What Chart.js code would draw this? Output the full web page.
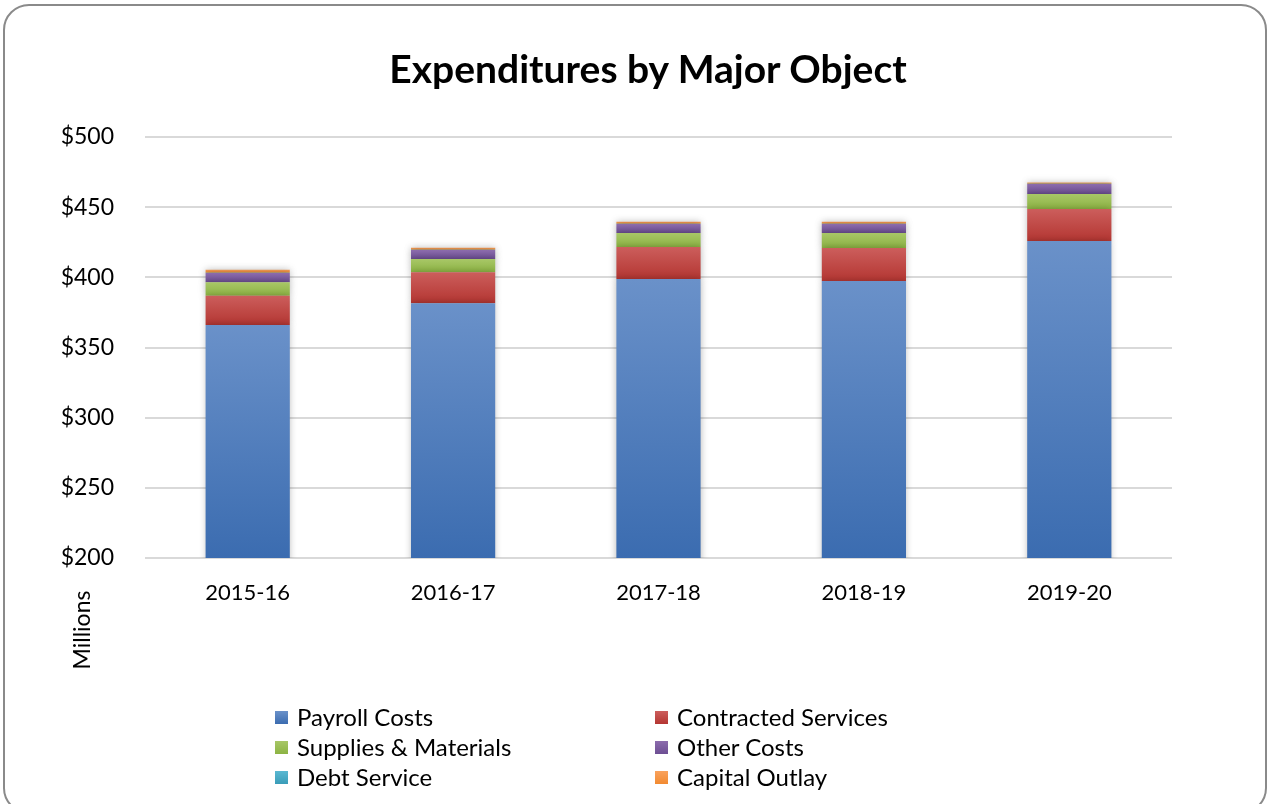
<!DOCTYPE html>
<html>
<head>
<meta charset="utf-8">
<script src="https://cdn.jsdelivr.net/npm/chart.js@4/dist/chart.umd.min.js"></script>
<style>
    body { margin: 0; background: #fff; font-family: Lato, "Open Sans", sans-serif; }
    #frame {
        position: absolute; left: 3px; top: 4px; width: 1260px; height: 806px;
        border: 2px solid #8a8a8a; border-radius: 26px;
    }
    #wrap { position: absolute; left: 0; top: 0; width: 1269px; height: 804px; }
    #title {
        position: absolute; left: 348px; width: 600px; top: 44px; text-align: center;
        font-size: 39px; font-weight: bold; color: #000; line-height: 48px;
    }
    #legend { position: absolute; left: 275px; top: 702px; width: 620px; }
    .legend-item { position: absolute; display: flex; align-items: center; font-size: 24px; line-height: 30px; color: #000; white-space: nowrap; }
    .legend-box { width: 13px; height: 13px; margin-right: 9px; }
</style>
</head>
<body>
<div id="frame"></div>
<div id="wrap"><canvas id="chart"></canvas></div>
<div id="title">Expenditures by Major Object</div>
<div id="legend"></div>
<script>
const years = ['2015-16', '2016-17', '2017-18', '2018-19', '2019-20'];
const payroll = [366, 381.6, 398.8, 397.4, 425.9];
const contracted = [20.9, 22.1, 22.8, 23.5, 22.8];
const supplies = [9.6, 9.3, 10.0, 10.7, 10.7];
const otherCosts = [6.6, 6.4, 6.4, 6.4, 7.1];
const debtService = [0.2, 0.2, 0.2, 0.2, 0.2];
const capitalOutlay = [2.1, 1.4, 1.4, 1.4, 0.9];
const yTicks = [200, 250, 300, 350, 400, 450, 500];

const series = [payroll, contracted, supplies, otherCosts, debtService, capitalOutlay];
const names = ['Payroll Costs', 'Contracted Services', 'Supplies & Materials', 'Other Costs', 'Debt Service', 'Capital Outlay'];
const colors = [
    ['#6a91c9', '#3b6cb0'],
    ['#cc5e5c', '#b43632'],
    ['#a8c767', '#8cb343'],
    ['#8c6cad', '#6d4e93'],
    ['#5ab8d2', '#3a9cb8'],
    ['#f9a25e', '#f28a30']
];

function segGradient(ctx) {
    const d = ctx.datasetIndex;
    const chart = ctx.chart;
    if (ctx.type !== 'data' || !chart.scales.y) return colors[d][1];
    const i = ctx.dataIndex;
    let base = 0;
    for (let k = 0; k < d; k++) base += series[k][i];
    const y = chart.scales.y;
    const top = y.getPixelForValue(base + series[d][i]);
    const bot = y.getPixelForValue(Math.max(base, y.min));
    if (!isFinite(top) || !isFinite(bot) || bot - top < 1) return colors[d][1];
    const g = chart.ctx.createLinearGradient(0, top, 0, bot);
    g.addColorStop(0, colors[d][0]);
    g.addColorStop(1, colors[d][1]);
    return g;
}

const datasets = series.map((s, d) => ({
    label: names[d],
    data: s,
    backgroundColor: segGradient,
    borderWidth: 0,
    barPercentage: 1,
    categoryPercentage: 0.41
}));

const extras = {
    id: 'extras',
    beforeDatasetsDraw(chart) {
        const c = chart.ctx;
        c.save();
        c.shadowColor = 'rgba(0,0,0,0.28)';
        c.shadowBlur = 7;
    },
    afterDatasetsDraw(chart) {
        chart.ctx.restore();
    },
    afterDraw(chart) {
        const c = chart.ctx;
        c.save();
        c.translate(83, 630);
        c.rotate(-Math.PI / 2);
        c.font = '23px Lato, "Open Sans", sans-serif';
        c.fillStyle = '#000';
        c.textAlign = 'center';
        c.textBaseline = 'middle';
        c.fillText('Millions', 0, 0);
        c.restore();
    }
};

const ctx = document.getElementById('chart');
const chart = new Chart(ctx, {
    type: 'bar',
    data: { labels: years, datasets: datasets },
    plugins: [extras],
    options: {
        responsive: true,
        maintainAspectRatio: false,
        animation: false,
        layout: { padding: { left: 0, right: 97, top: 137, bottom: 198 } },
        plugins: {
            legend: { display: false },
            tooltip: { enabled: false },
            title: { display: false }
        },
        scales: {
            x: {
                stacked: true,
                grid: { display: false },
                border: { display: false },
                ticks: { color: '#000', padding: 14, font: { family: 'Lato, "Open Sans", sans-serif', size: 22 } },
                afterFit(scale) { scale.height = 48; }
            },
            y: {
                stacked: true,
                min: 200,
                max: 500,
                afterBuildTicks(scale) {
                    scale.ticks = yTicks.map(v => ({ value: v }));
                },
                afterFit(scale) { scale.width = 145; },
                grid: { color: '#d9d9d9', lineWidth: 2, drawTicks: false },
                border: { display: false },
                ticks: {
                    color: '#000',
                    padding: 31,
                    font: { family: 'Lato, "Open Sans", sans-serif', size: 23 },
                    callback: v => '$' + v
                }
            }
        }
    }
});

// legend in two columns, built from the chart's datasets
const legend = document.getElementById('legend');
chart.data.datasets.forEach((ds, d) => {
    const item = document.createElement('div');
    item.className = 'legend-item';
    item.style.left = (d % 2 === 0 ? 0 : 380) + 'px';
    item.style.top = (Math.floor(d / 2) * 30) + 'px';
    item.innerHTML = `<span class="legend-box" style="background:linear-gradient(${colors[d][0]}, ${colors[d][1]})"></span>${ds.label}`;
    legend.appendChild(item);
});
</script>
</body>
</html>
